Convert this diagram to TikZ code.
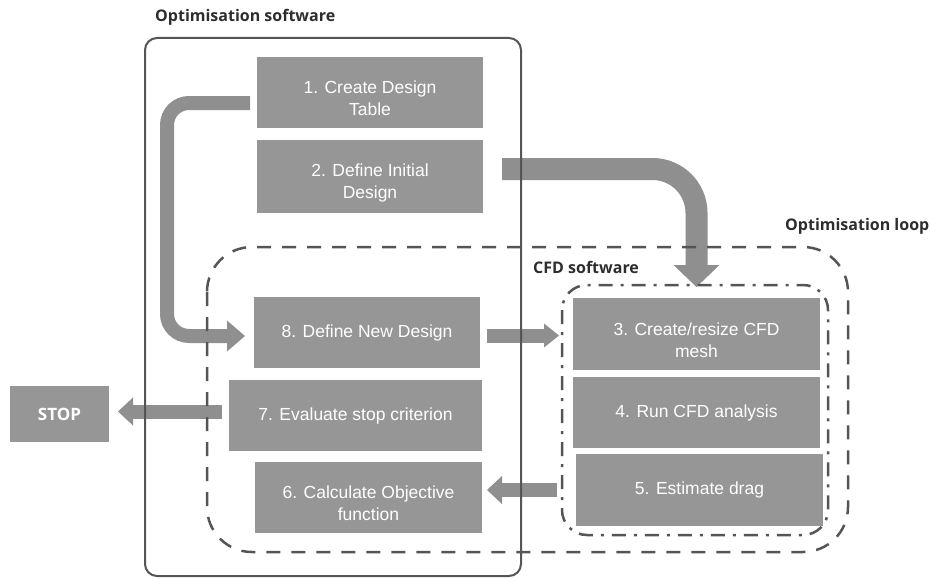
\documentclass[tikz,border=0pt]{standalone}
\usepackage{fontspec}
\setmainfont{Liberation Sans}
\newfontfamily\labelfont{Open Sans}
\usepackage{tikz}
\usetikzlibrary{arrows.meta,positioning,backgrounds}

\definecolor{boxgray}{RGB}{150,150,150}
\definecolor{arrowgray}{RGB}{143,143,143}
\definecolor{framegray}{RGB}{85,85,85}
\definecolor{labelgray}{RGB}{45,45,45}

\newcommand{\lowline}{\rule{0pt}{25pt}}

\begin{document}
\begin{tikzpicture}[x=1pt, y=-1pt, node distance=12pt]

	\tikzstyle{stepbox}=[rectangle,fill=boxgray,text=white,align=center,inner sep=2pt,outer sep=0pt,minimum width=226pt,minimum height=71pt,font=\fontsize{17.5}{22}\selectfont]
	\tikzstyle{blockarrow}=[draw=arrowgray,line width=14pt,-{Triangle[length=15pt,width=28pt,line width=0pt]}]
	\tikzstyle{frame}=[draw=framegray,line width=2pt]
	\tikzstyle{title}=[anchor=west,inner sep=0pt,text=labelgray,font=\labelfont\bfseries\fontsize{16}{18}\selectfont]
	%\tikzstyle{empty}=[rectangle,draw=white]

	\useasboundingbox (0,0) rectangle (933,578);

	% Optimisation software side
	\node[stepbox] (S1) at (370,92.5) {\lowline 1. Create Design\\Table};
	\node[stepbox,minimum height=73pt] (S2) [below=12pt of S1] {\lowline 2. Define Initial\\Design};
	\node[stepbox] (S8) at (367,332.5) {8. Define New Design};
	\node[stepbox,minimum width=253pt] (S7) at (355.5,415.5) {7. Evaluate stop criterion};
	\node[stepbox,minimum width=227pt] (S6) at (368.5,497.5) {\lowline 6. Calculate Objective\\function};
	\node[stepbox,minimum width=99pt,minimum height=56pt,font=\labelfont\bfseries\fontsize{17}{20}\selectfont] (stop) at (59.5,414) {STOP};

	% CFD side
	\node[stepbox,minimum width=247pt,minimum height=72pt] (S3) at (696.5,334) {\lowline 3. Create/resize CFD\\mesh};
	\node[stepbox,minimum width=247pt] (S4) [below=7pt of S3] {4. Run CFD analysis};
	\node[stepbox,minimum width=247pt,minimum height=72pt] (S5) at (699.5,490) {5. Estimate drag};

	% Titles
	\node[title] (optsw) at (155,17) {Optimisation software};
	\node[title] (optloop) at (785,226) {Optimisation loop};
	\node[title] (cfdsw) at (533,267) {CFD software};

	% Frames
	\draw[frame,rounded corners=12pt] (145,38) rectangle (521,576);
	\draw[frame,line width=2.5pt,dash pattern=on 14pt off 11pt,rounded corners=45pt] (207,247) rectangle (848,552);
	\draw[frame,line width=2.5pt,dash pattern=on 14pt off 8pt on 3pt off 8pt,rounded corners=25pt] (562,285) rectangle (828,535);

	\begin{scope}[on background layer]
	% From 1 down to 8
	\draw[blockarrow,-{Triangle[length=18pt,width=31pt,line width=0pt]},rounded corners=22pt,shorten <=7pt,shorten >=9pt] ([yshift=-10.5pt]S1.west) -- ++(-90,0) |- ([yshift=-3.5pt]S8.west);

	% From 2 over to 3
	\draw[blockarrow,line width=22pt,-{Triangle[length=22pt,width=46pt,line width=0pt]},rounded corners=44pt,shorten <=19pt,shorten >=11pt] ([yshift=7.5pt]S2.east) -| (S3.north);

	% From 8 to 3
	\draw[blockarrow,-{Triangle[length=15pt,width=24pt,line width=0pt]},shorten <=7pt,shorten >=14pt] ([yshift=-3pt]S8.east) -- ([yshift=-3pt]S8.east -| S3.west);

	% From 7 to STOP
	\draw[blockarrow,shorten <=7pt,shorten >=9pt] ([yshift=4pt]S7.west) -- ([yshift=4pt]S7.west -| stop.east);

	% From 5 back to 6
	\draw[blockarrow,shorten <=19pt,shorten >=5pt] (S5.west) -- (S5.west -| S6.east);
	\end{scope}

\end{tikzpicture}
\end{document}
